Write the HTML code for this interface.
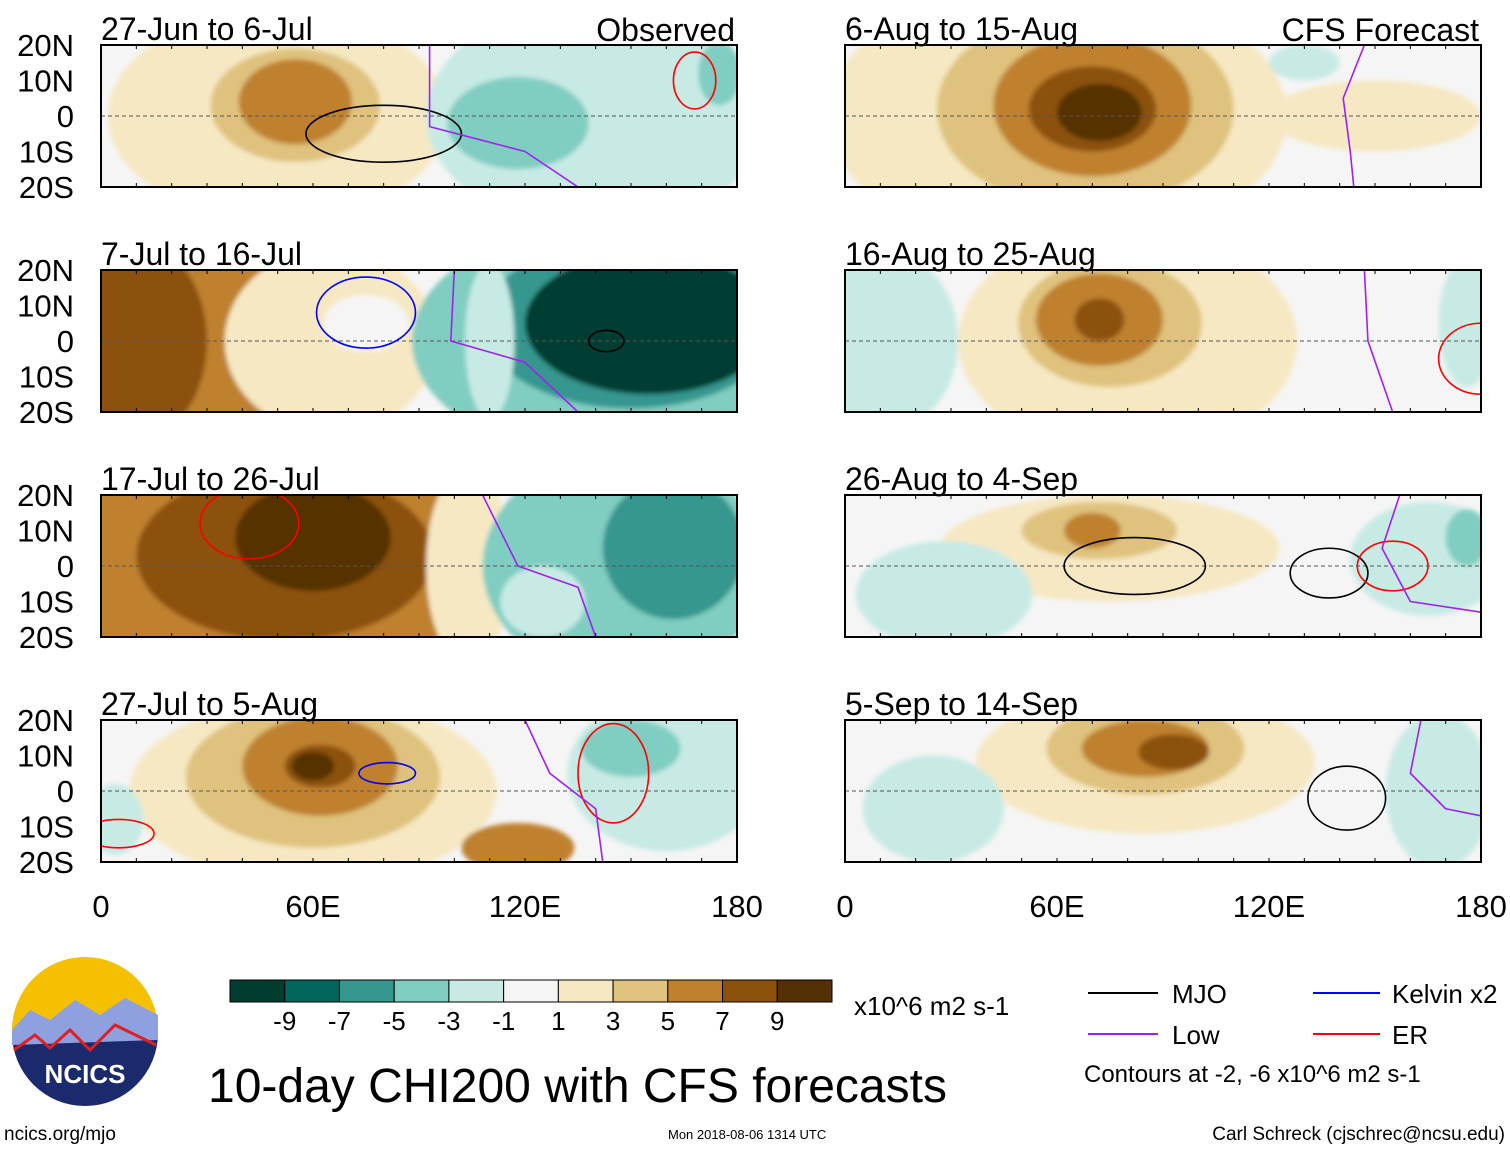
<!DOCTYPE html>
<html><head><meta charset="utf-8"><style>
body{margin:0;background:#fff;font-family:"Liberation Sans",sans-serif}
svg text{font-family:"Liberation Sans",sans-serif}
</style></head><body>
<svg id="fig" width="1510" height="1149" viewBox="0 0 1510 1149" xmlns="http://www.w3.org/2000/svg">
<defs><filter id="bl" x="-5%" y="-5%" width="110%" height="110%"><feGaussianBlur stdDeviation="2.5"/></filter></defs>
<g id="panels"></g>
<g id="colorbar"></g>
<text x="854" y="1015" font-size="26">x10^6 m2 s-1</text>
<text x="208" y="1102" font-size="48">10-day CHI200 with CFS forecasts</text>
<g font-size="26">
<line x1="1088" y1="993" x2="1158" y2="993" stroke="#000" stroke-width="2"/><text x="1172" y="1003">MJO</text>
<line x1="1088" y1="1034" x2="1158" y2="1034" stroke="#a020f0" stroke-width="2"/><text x="1172" y="1044">Low</text>
<line x1="1313" y1="993" x2="1380" y2="993" stroke="#0000ff" stroke-width="2"/><text x="1392" y="1003">Kelvin x2</text>
<line x1="1313" y1="1034" x2="1380" y2="1034" stroke="#ff0000" stroke-width="2"/><text x="1392" y="1044">ER</text>
<text x="1084" y="1082" font-size="24">Contours at -2, -6 x10^6 m2 s-1</text>
</g>
<g>
<circle cx="85" cy="1033" r="73" fill="#1a2a6c"/>
<path d="M12,1030 A73,73 0 0 1 158,1030 Z" fill="#f5c000"/>
<path d="M12,1030 L30,1010 L50,1020 L75,1000 L100,1015 L125,998 L158,1015 L158,1040 L12,1045Z" fill="#8fa0e0"/>
<path d="M14,1050 L35,1035 L50,1048 L70,1030 L90,1050 L115,1025 L156,1045" fill="none" stroke="#e02020" stroke-width="3"/>
<text x="85" y="1083" font-size="26" font-weight="bold" fill="#fff" text-anchor="middle">NCICS</text>
</g>
<text x="4" y="1140" font-size="19">ncics.org/mjo</text>
<text x="668" y="1139" font-size="13">Mon 2018-08-06 1314 UTC</text>
<text x="1505" y="1140" font-size="19" text-anchor="end">Carl Schreck (cjschrec@ncsu.edu)</text>
</svg>
<script>
const levels=[-9,-7,-5,-3,-1,1,3,5,7,9];
const colors=["#003c30","#01665e","#35978f","#80cdc1","#c7eae5","#f5f5f5","#f6e8c3","#dfc27d","#bf812d","#8c510a","#543005"];
const titles=["27-Jun to 6-Jul","7-Jul to 16-Jul","17-Jul to 26-Jul","27-Jul to 5-Aug","6-Aug to 15-Aug","16-Aug to 25-Aug","26-Aug to 4-Sep","5-Sep to 14-Sep"];
const latTicks=["20N","10N","0","10S","20S"];
const lonTicks=["0","60E","120E","180"];
// blobs: [lon, lat, rxDeg, ryDeg, anomaly]
const blobs=[
[[50,0,48,30,2],[55,3,24,16,4],[55,4,16,12,6],[140,0,48,32,-2],[118,-2,20,13,-4],[175,12,6,9,-4]],
[[30,0,50,32,6],[10,0,20,28,8],[65,0,30,26,2],[75,5,12,8,0],[140,0,52,32,-4],[150,5,42,24,-6],[155,5,35,20,-10],[110,0,7,22,-2]],
[[45,0,70,32,6],[52,3,42,24,8],[60,8,22,15,10],[104,0,12,28,2],[148,0,40,32,-4],[162,5,20,20,-6],[125,-10,12,10,-2]],
[[60,0,52,26,2],[60,4,36,20,4],[62,7,22,14,6],[62,7,10,6,8],[60,7,6,4,10],[118,-16,16,7,6],[160,5,28,22,-2],[150,12,14,8,-4],[4,-8,8,10,-2]],
[[60,0,65,38,2],[68,2,42,28,4],[70,3,28,20,6],[70,2,18,12,8],[72,1,12,8,10],[150,0,30,10,2],[130,15,10,5,-2]],
[[80,0,48,32,2],[75,5,26,18,4],[72,6,18,13,6],[72,6,7,6,8],[12,0,20,25,-2],[176,5,8,18,-2]],
[[75,5,48,15,2],[72,10,22,8,4],[70,10,8,5,6],[28,-8,25,15,-2],[165,2,22,16,-2],[176,8,6,8,-4]],
[[85,8,48,20,2],[85,12,28,13,4],[85,12,18,8,6],[93,11,10,5,8],[168,0,15,22,-2],[25,-5,20,15,-2]]
];
// contour ellipses: [lon, lat, rxDeg, ryDeg, type]
const contours=[
[[80,-5,22,8,"mjo"],[168,10,6,8,"er"]],
[[75,8,14,10,"kelvin"],[143,0,5,3,"mjo"]],
[[42,12,14,10,"er"]],
[[81,5,8,3,"kelvin"],[5,-12,10,4,"er"],[145,5,10,14,"er"]],
[],
[[180,-5,12,10,"er"]],
[[82,0,20,8,"mjo"],[137,-2,11,7,"mjo"],[155,0,10,7,"er"]],
[[142,-2,11,9,"mjo"]]
];
// low tracks: [lon, lat] points
const lows=[
[[93,20],[93,-3],[120,-10],[135,-20]],
[[100,20],[99,0],[120,-6],[135,-20]],
[[108,20],[118,0],[135,-6],[140,-20]],
[[120,20],[127,5],[140,-5],[142,-20]],
[[147,20],[141,5],[143,-10],[144,-20]],
[[147,20],[148,0],[155,-20],[180,-20]],
[[157,20],[152,5],[160,-10],[180,-13]],
[[163,20],[160,5],[170,-5],[180,-7]]
];
const lineColor={mjo:"#000",kelvin:"#0000ff",er:"#ff0000",low:"#a020f0"};
const NS="http://www.w3.org/2000/svg";
const W=636,H=142,colX=[101,845],rowY=[45,270,495,720];
function levelColor(v){let i=0;while(i<levels.length&&v>levels[i])i++;return colors[i];}
function mk(t,a,p){const e=document.createElementNS(NS,t);for(const k in a)e.setAttribute(k,a[k]);p.appendChild(e);return e;}
const root=document.getElementById("panels");
for(let p=0;p<8;p++){
 const x0=colX[Math.floor(p/4)],y0=rowY[p%4];
 const xs=lon=>x0+lon/180*W, ys=lat=>y0+(20-lat)/40*H;
 const g=mk("g",{},root);
 
 
 const cp=mk("clipPath",{id:"c"+p},g);mk("rect",{x:x0,y:y0,width:W,height:H},cp);
 const inner=mk("g",{"clip-path":"url(#c"+p+")"},g);
 mk("rect",{x:x0,y:y0,width:W,height:H,fill:"#f5f5f5"},inner);
 const fg=mk("g",{filter:"url(#bl)"},inner);
 blobs[p].forEach(b=>{
  const e=mk("ellipse",{cx:xs(b[0]),cy:ys(b[1]),rx:b[2]/180*W,ry:b[3]/40*H,fill:levelColor(b[4])},fg);
  
  
 });
 mk("line",{x1:x0,y1:ys(0),x2:x0+W,y2:ys(0),stroke:"#555","stroke-dasharray":"4,3","stroke-width":1},inner);
 contours[p].forEach(c=>{
  const e=mk("ellipse",{cx:xs(c[0]),cy:ys(c[1]),rx:c[2]/180*W,ry:c[3]/40*H,fill:"none",stroke:lineColor[c[4]],"stroke-width":1.6},inner);
  
  
 });
 const pl=mk("polyline",{points:lows[p].map(q=>xs(q[0])+","+ys(q[1])).join(" "),fill:"none",stroke:lineColor.low,"stroke-width":1.6,"stroke-linejoin":"round"},inner);
 
 
 mk("rect",{x:x0,y:y0,width:W,height:H,fill:"none",stroke:"#000","stroke-width":2},g);
 for(let k=0;k<=18;k++){mk("line",{x1:x0+k*W/18,y1:y0,x2:x0+k*W/18,y2:y0+4,stroke:"#000"},g);mk("line",{x1:x0+k*W/18,y1:y0+H,x2:x0+k*W/18,y2:y0+H-4,stroke:"#000"},g);}
 const t=mk("text",{x:x0,y:y0-5,"font-size":32},g);t.textContent=titles[p];
 
 
 if(p%4===0){const s=mk("text",{x:x0+W-2,y:y0-4,"font-size":32,"text-anchor":"end"},g);s.textContent=p===0?"Observed":"CFS Forecast";
  
  }
 if(p<4){latTicks.forEach((l,i)=>{const tt=mk("text",{x:74,y:y0+i*H/4+11,"font-size":31,"text-anchor":"end"},g);tt.textContent=l;
  
  });}
}
[0,1].forEach(c=>{lonTicks.forEach((l,i)=>{const t=mk("text",{x:colX[c]+i*W/3,y:917,"font-size":31,"text-anchor":"middle"},root);t.textContent=l;
 
 });});
const cb=document.getElementById("colorbar"),bw=602/11;
colors.forEach((c,i)=>{const r=mk("rect",{x:230+i*bw,y:980,width:bw,height:22,fill:c,stroke:"#000","stroke-width":1},cb);
 
 });
levels.forEach((l,i)=>{const t=mk("text",{x:230+(i+1)*bw,y:1030,"font-size":26,"text-anchor":"middle"},cb);t.textContent=l;
 
 });
</script>
</body></html>
